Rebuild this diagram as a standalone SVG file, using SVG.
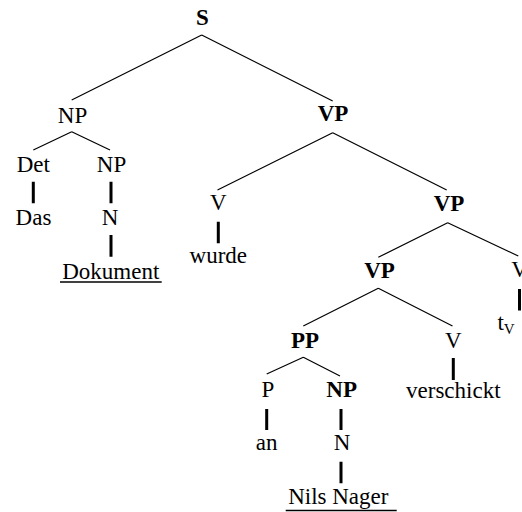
<svg xmlns="http://www.w3.org/2000/svg" width="522" height="512" viewBox="0 0 522 512">
  <style>
    text { font-family: "Liberation Serif", "Times New Roman", serif; font-size: 23px; fill: #000; text-anchor: middle; }
    .b { font-weight: bold; }
    .sub { font-size: 15px; }
    .edge { stroke: #000; stroke-width: 1.2; fill: none; }
    .stem { stroke: #000; stroke-width: 3; fill: none; }
    .ul { stroke: #000; stroke-width: 1.5; }
  </style>
  <rect width="522" height="512" fill="#fff"/>

  <!-- tree branches -->
  <g id="connectors">
    <path class="edge" d="M201.7 35 L71.7 100 M201.7 35 L332.7 101"/>
    <path class="edge" d="M71.7 131.7 L33.3 150 M71.7 131.7 L110 150" stroke-width="1.6"/>
    <path class="edge" d="M332.7 132.7 L217.5 190 M332.7 132.7 L446.7 190"/>
    <path class="edge" d="M447.7 222.7 L378.3 257.3 M447.7 222.7 L518.3 256"/>
    <path class="edge" d="M378.3 288.3 L303.3 326 M378.3 288.3 L452.5 326"/>
    <path class="edge" d="M303.3 357.3 L266.7 374 M303.3 357.3 L340 376"/>
    <path class="stem" d="M33.3 181.7 V203.3 M111 181.7 V203.3 M111 235 V256.7 M218.3 221.7 V243.3 M519.5 289 V310.5 M453.3 358 V380 M266.7 409 V430 M341 409 V430 M341 461.7 V483.3"/>
  </g>

  <g id="n-S"><text class="b" x="202.5" y="25">S</text></g>
  <g id="n-NP1"><text x="72.5" y="122.5">NP</text></g>
  <g id="n-VP1"><text class="b" x="333" y="121">VP</text></g>
  <g id="n-Det"><text x="33.3" y="171.5">Det</text></g>
  <g id="n-NP2"><text x="111.5" y="171.5">NP</text></g>
  <g id="n-Das"><text x="33.5" y="225">Das</text></g>
  <g id="n-N1"><text x="110" y="225">N</text></g>
  <g id="n-Dokument">
    <text x="110.8" y="278.5">Dokument</text>
    <line class="ul" x1="60" y1="282" x2="161.7" y2="282"/>
  </g>
  <g id="n-V1"><text x="218.3" y="210">V</text></g>
  <g id="n-wurde"><text x="218.3" y="263">wurde</text></g>
  <g id="n-VP2"><text class="b" x="449" y="211">VP</text></g>
  <g id="n-VP3"><text class="b" x="379.5" y="278">VP</text></g>
  <g id="n-V2"><text x="519.5" y="277">V</text></g>
  <g id="n-tV"><text x="506" y="330">t<tspan class="sub" dy="4">V</tspan></text></g>
  <g id="n-PP"><text class="b" x="305" y="348">PP</text></g>
  <g id="n-V3"><text x="453.3" y="348">V</text></g>
  <g id="n-P"><text x="268" y="397">P</text></g>
  <g id="n-NP3"><text class="b" x="341.7" y="397">NP</text></g>
  <g id="n-verschickt"><text x="453.3" y="398">verschickt</text></g>
  <g id="n-an"><text x="266.7" y="450">an</text></g>
  <g id="n-N2"><text x="342" y="450">N</text></g>
  <g id="n-NilsNager">
    <text x="338.3" y="503.5">Nils Nager</text>
    <line class="ul" x1="285.7" y1="510.5" x2="396.7" y2="510.5"/>
  </g>
</svg>
